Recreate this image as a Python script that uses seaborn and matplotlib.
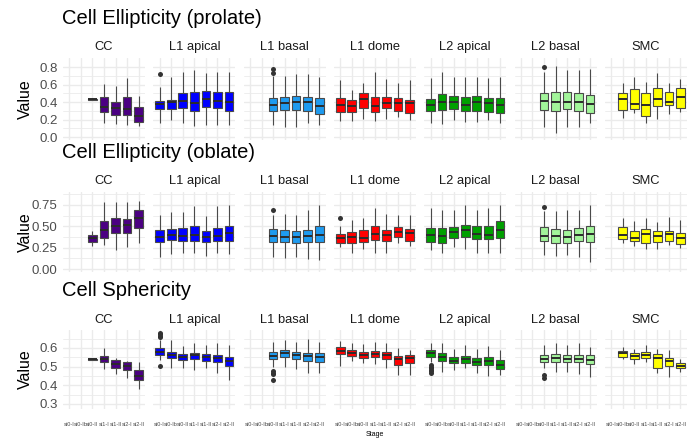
import numpy as np
import pandas as pd
import matplotlib
matplotlib.use("Agg")
import matplotlib.pyplot as plt
import seaborn as sns

STAGES = ["st0-I", "st0-Ib", "st0-II", "st1-I", "st1-II", "st2-I", "st2-II"]
REGIONS = ["CC", "L1 apical", "L1 basal", "L1 dome", "L2 apical", "L2 basal", "SMC"]
REGION_COLORS = ["#4B0082", "#0000FF", "#1E9BF0", "#FF0000", "#00A000", "#A2F59A", "#FFFF00"]

# Five-number summaries per stage: (low whisker, Q1, median, Q3, high whisker); None = no cells
PROLATE = {
    "CC": [None, None, (0.42, 0.425, 0.43, 0.44, 0.445), (0.157, 0.286, 0.347, 0.454, 0.61),
           (0.148, 0.25, 0.33, 0.40, 0.583), (0.137, 0.25, 0.316, 0.454, 0.67), (0.126, 0.175, 0.24, 0.34, 0.47)],
    "L1 apical": [(0.164, 0.316, 0.377, 0.415, 0.575), (0.194, 0.32, 0.40, 0.42, 0.69), (0.157, 0.331, 0.415, 0.50, 0.746),
                  (0.126, 0.293, 0.392, 0.51, 0.766), (0.137, 0.34, 0.438, 0.526, 0.728), (0.137, 0.33, 0.415, 0.52, 0.74),
                  (0.14, 0.30, 0.404, 0.51, 0.74)],
    "L1 basal": [None, None, (0.137, 0.297, 0.366, 0.442, 0.697), (0.11, 0.309, 0.392, 0.461, 0.697),
                 (0.11, 0.309, 0.404, 0.469, 0.72), (0.164, 0.30, 0.40, 0.461, 0.716), (0.137, 0.263, 0.354, 0.442, 0.682)],
    "L1 dome": [(0.183, 0.29, 0.362, 0.442, 0.651), (0.183, 0.29, 0.358, 0.423, 0.537), (0.202, 0.328, 0.431, 0.506, 0.613),
                (0.187, 0.29, 0.354, 0.461, 0.746), (0.21, 0.331, 0.392, 0.461, 0.659), (0.232, 0.30, 0.385, 0.45, 0.613),
                (0.19, 0.278, 0.392, 0.423, 0.651)],
    "L2 apical": [(0.164, 0.297, 0.366, 0.431, 0.67), (0.149, 0.309, 0.404, 0.491, 0.746), (0.194, 0.316, 0.40, 0.469, 0.69),
                  (0.175, 0.30, 0.366, 0.461, 0.69), (0.175, 0.30, 0.404, 0.469, 0.682), (0.194, 0.29, 0.392, 0.45, 0.67),
                  (0.16, 0.27, 0.366, 0.442, 0.682)],
    "L2 basal": [None, None, (0.118, 0.309, 0.411, 0.50, 0.746), (0.05, 0.30, 0.404, 0.51, 0.811),
                 (0.11, 0.316, 0.404, 0.51, 0.766), (0.118, 0.30, 0.396, 0.50, 0.766), (0.164, 0.278, 0.373, 0.48, 0.773)],
    "SMC": [None, (0.213, 0.309, 0.431, 0.506, 0.62), (0.278, 0.32, 0.377, 0.545, 0.69), (0.164, 0.244, 0.366, 0.50, 0.632),
            (0.206, 0.358, 0.431, 0.556, 0.728), (0.263, 0.366, 0.404, 0.518, 0.613), (0.29, 0.335, 0.453, 0.556, 0.659)],
}
PROLATE_OUTLIERS = {"L1 apical": [(0, 0.716)], "L1 basal": [(2, 0.774), (2, 0.735)], "L2 basal": [(2, 0.80)]}

OBLATE = {
    "CC": [None, None, (0.27, 0.314, 0.361, 0.40, 0.45), (0.282, 0.361, 0.459, 0.557, 0.78),
           (0.224, 0.42, 0.506, 0.596, 0.79), (0.255, 0.42, 0.518, 0.584, 0.79), (0.31, 0.486, 0.596, 0.686, 0.80)],
    "L1 apical": [(0.145, 0.322, 0.38, 0.459, 0.635), (0.176, 0.341, 0.40, 0.467, 0.663), (0.192, 0.333, 0.392, 0.478, 0.663),
                  (0.192, 0.333, 0.40, 0.498, 0.733), (0.153, 0.322, 0.38, 0.45, 0.624), (0.192, 0.33, 0.392, 0.478, 0.741),
                  (0.176, 0.333, 0.42, 0.506, 0.749)],
    "L1 basal": [None, None, (0.145, 0.322, 0.392, 0.467, 0.635), (0.125, 0.322, 0.38, 0.459, 0.647),
                 (0.145, 0.302, 0.373, 0.45, 0.635), (0.114, 0.322, 0.388, 0.459, 0.694), (0.106, 0.322, 0.40, 0.498, 0.753)],
    "L1 dome": [(0.255, 0.31, 0.361, 0.412, 0.506), (0.184, 0.31, 0.373, 0.439, 0.576), (0.231, 0.322, 0.361, 0.459, 0.596),
                (0.184, 0.341, 0.412, 0.506, 0.714), (0.192, 0.33, 0.40, 0.459, 0.647), (0.302, 0.38, 0.439, 0.49, 0.635),
                (0.271, 0.33, 0.427, 0.467, 0.635)],
    "L2 apical": [(0.224, 0.322, 0.40, 0.478, 0.714), (0.192, 0.31, 0.388, 0.478, 0.694), (0.255, 0.361, 0.439, 0.49, 0.694),
                  (0.231, 0.373, 0.459, 0.518, 0.753), (0.184, 0.349, 0.412, 0.506, 0.686), (0.192, 0.349, 0.40, 0.506, 0.714),
                  (0.192, 0.361, 0.459, 0.557, 0.753)],
    "L2 basal": [None, None, (0.165, 0.33, 0.388, 0.49, 0.675), (0.153, 0.31, 0.388, 0.467, 0.675),
                 (0.165, 0.302, 0.38, 0.459, 0.686), (0.137, 0.33, 0.40, 0.478, 0.694), (0.086, 0.322, 0.412, 0.506, 0.753)],
    "SMC": [None, (0.302, 0.349, 0.40, 0.49, 0.596), (0.271, 0.333, 0.361, 0.45, 0.557), (0.231, 0.302, 0.412, 0.467, 0.596),
            (0.231, 0.322, 0.388, 0.45, 0.545), (0.282, 0.333, 0.408, 0.45, 0.608), (0.243, 0.294, 0.365, 0.427, 0.576)],
}
OBLATE_OUTLIERS = {"L1 basal": [(2, 0.686)], "L1 dome": [(0, 0.596)], "L2 basal": [(2, 0.725)]}

SPHERICITY = {
    "CC": [None, None, (0.535, 0.536, 0.539, 0.541, 0.542), (0.486, 0.522, 0.539, 0.557, 0.598),
           (0.461, 0.491, 0.514, 0.536, 0.545), (0.438, 0.482, 0.504, 0.522, 0.53), (0.379, 0.429, 0.45, 0.482, 0.527)],
    "L1 apical": [(0.536, 0.562, 0.58, 0.598, 0.643), (0.491, 0.545, 0.563, 0.58, 0.64), (0.491, 0.536, 0.553, 0.568, 0.611),
                  (0.482, 0.54, 0.563, 0.575, 0.628), (0.491, 0.532, 0.553, 0.568, 0.616), (0.465, 0.522, 0.545, 0.563, 0.625),
                  (0.429, 0.504, 0.53, 0.553, 0.616)],
    "L1 basal": [None, None, (0.50, 0.54, 0.559, 0.58, 0.634), (0.497, 0.55, 0.575, 0.589, 0.643),
                 (0.486, 0.54, 0.563, 0.58, 0.634), (0.468, 0.532, 0.557, 0.575, 0.646), (0.468, 0.527, 0.553, 0.575, 0.634)],
    "L1 dome": [(0.504, 0.566, 0.586, 0.607, 0.639), (0.532, 0.559, 0.575, 0.589, 0.625), (0.518, 0.545, 0.563, 0.58, 0.62),
                (0.514, 0.55, 0.568, 0.584, 0.634), (0.491, 0.543, 0.563, 0.58, 0.628), (0.456, 0.509, 0.539, 0.557, 0.598),
                (0.456, 0.518, 0.545, 0.563, 0.589)],
    "L2 apical": [(0.527, 0.553, 0.575, 0.589, 0.628), (0.473, 0.53, 0.55, 0.571, 0.625), (0.482, 0.518, 0.532, 0.55, 0.593),
                  (0.491, 0.518, 0.539, 0.557, 0.616), (0.465, 0.509, 0.527, 0.545, 0.593), (0.45, 0.509, 0.532, 0.553, 0.611),
                  (0.456, 0.486, 0.509, 0.536, 0.589)],
    "L2 basal": [None, None, (0.491, 0.522, 0.539, 0.563, 0.616), (0.473, 0.527, 0.548, 0.568, 0.625),
                 (0.473, 0.524, 0.541, 0.563, 0.616), (0.461, 0.522, 0.541, 0.563, 0.625), (0.447, 0.514, 0.536, 0.563, 0.607)],
    "SMC": [None, (0.539, 0.55, 0.571, 0.584, 0.607), (0.514, 0.541, 0.557, 0.575, 0.593), (0.522, 0.545, 0.561, 0.577, 0.616),
            (0.468, 0.491, 0.545, 0.568, 0.593), (0.447, 0.504, 0.53, 0.545, 0.589), (0.473, 0.491, 0.505, 0.518, 0.539)],
}
SPHERICITY_OUTLIERS = {
    "L1 apical": [(0, 0.678), (0, 0.672), (0, 0.665), (0, 0.658), (0, 0.504)],
    "L1 basal": [(2, 0.479), (2, 0.468), (2, 0.461), (2, 0.429)],
    "L2 apical": [(0, 0.509), (0, 0.50), (0, 0.49), (0, 0.482), (0, 0.474), (0, 0.468)],
    "L2 basal": [(2, 0.456), (2, 0.44)],
}

sns.set_theme(style="white")
plt.rcParams["font.family"] = ["Liberation Sans", "DejaVu Sans"]

W, H = 696, 441
fig = plt.figure(figsize=(W / 100, H / 100), dpi=100)


def px_axes(left, top, width, height):
    return fig.add_axes([left / W, 1 - (top + height) / H, width / W, height / H])


def long_frame(summaries):
    rows = []
    for stage, s in zip(STAGES, summaries):
        if s is None:
            continue
        for v in s:
            rows.append((stage, v))
    return pd.DataFrame(rows, columns=["Stage", "Value"])


ROWS = [
    dict(data=PROLATE, out=PROLATE_OUTLIERS, title="Cell Ellipticity (prolate)", top=58, bottom=140,
         ylim=(-0.034, 0.903), ticks=[0.0, 0.2, 0.4, 0.6, 0.8], minor=[0.1, 0.3, 0.5, 0.7], fmt="{:.1f}",
         title_y=18, strip_y=47),
    dict(data=OBLATE, out=OBLATE_OUTLIERS, title="Cell Ellipticity (oblate)", top=192, bottom=272,
         ylim=(-0.035, 0.902), ticks=[0.0, 0.25, 0.5, 0.75], minor=[0.125, 0.375, 0.625, 0.875], fmt="{:.2f}",
         title_y=152, strip_y=181),
    dict(data=SPHERICITY, out=SPHERICITY_OUTLIERS, title="Cell Sphericity", top=330, bottom=409,
         ylim=(0.273, 0.696), ticks=[0.3, 0.4, 0.5, 0.6], minor=[0.35, 0.45, 0.55, 0.65], fmt="{:.1f}",
         title_y=290, strip_y=320),
]

PANEL_LEFT0, PANEL_STEP, PANEL_W = 63, 90.3, 82
GRID = "#EBEBEB"
EDGE = "#4A4A4A"

for r, row in enumerate(ROWS):
    height = row["bottom"] - row["top"]
    fig.text(62 / W, 1 - row["title_y"] / H, row["title"], fontsize=14.5, ha="left", va="center", color="black")
    fig.text(25 / W, 1 - (row["top"] + height / 2) / H, "Value", fontsize=11.5, rotation=90,
             ha="center", va="center", color="black")
    for i, region in enumerate(REGIONS):
        left = PANEL_LEFT0 + i * PANEL_STEP
        ax = px_axes(left, row["top"], PANEL_W, height)
        ax.set_facecolor("none")
        df = long_frame(row["data"][region])
        sns.boxplot(data=df, x="Stage", y="Value", order=STAGES, color=REGION_COLORS[i], saturation=1,
                    width=0.75, whis=(0, 100), showfliers=False, showcaps=False, linecolor=EDGE, linewidth=0.8,
                    medianprops={"color": "#2B2B2B", "linewidth": 1.4}, ax=ax)
        pts = row["out"].get(region, [])
        if pts:
            odf = pd.DataFrame({"Stage": [STAGES[s] for s, _ in pts], "Value": [v for _, v in pts]})
            sns.stripplot(data=odf, x="Stage", y="Value", order=STAGES, jitter=False, color="#333333",
                          size=3.6, linewidth=0, ax=ax, zorder=4)
        ax.set_xlim(-0.55, 6.55)
        ax.set_ylim(*row["ylim"])
        ax.set_yticks(row["ticks"])
        ax.set_yticks(row["minor"], minor=True)
        ax.set_xticks(range(len(STAGES)))
        ax.grid(False)
        for t in row["ticks"]:
            ax.axhline(t, color=GRID, lw=1.0, zorder=0)
        for t in row["minor"]:
            ax.axhline(t, color=GRID, lw=0.6, zorder=0)
        for k in range(len(STAGES)):
            ax.axvline(k, color=GRID, lw=1.0, zorder=0)
        for sp in ax.spines.values():
            sp.set_visible(False)
        ax.tick_params(axis="both", which="both", length=0)
        ax.set_xlabel("")
        ax.set_ylabel("")
        if i == 0:
            ax.set_yticklabels([row["fmt"].format(t) for t in row["ticks"]], fontsize=9.5, color="#4D4D4D")
            ax.tick_params(axis="y", pad=4)
        else:
            ax.set_yticklabels([])
        if r == len(ROWS) - 1:
            ax.set_xticklabels(STAGES, fontsize=4, color="#4D4D4D")
            ax.tick_params(axis="x", pad=9)
        else:
            ax.set_xticklabels([])
        fig.text((left + PANEL_W / 2) / W, 1 - row["strip_y"] / H, region, fontsize=9.3,
                 ha="center", va="center", color="#1A1A1A")

fig.text((PANEL_LEFT0 + 6 * PANEL_STEP + PANEL_W + PANEL_LEFT0) / 2 / W, 1 - 434 / H, "Stage",
         fontsize=5, ha="center", va="center", color="black")

fig.savefig("out.png", dpi=100)
